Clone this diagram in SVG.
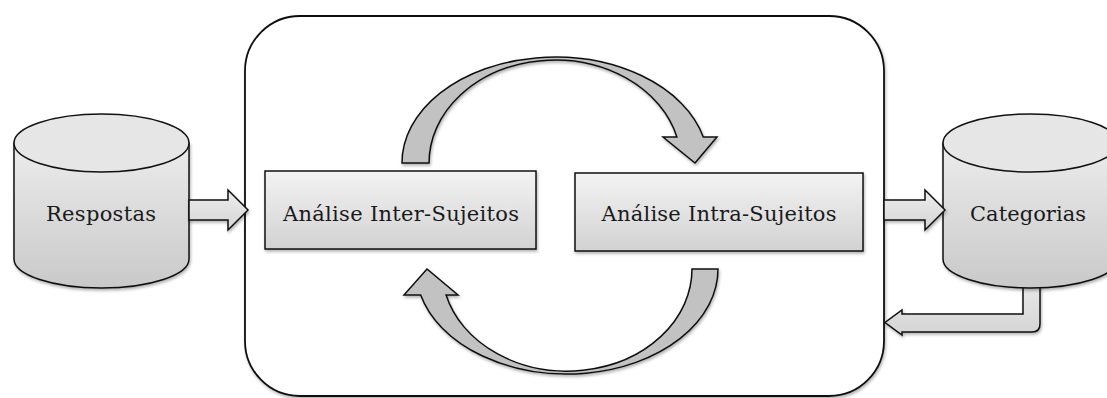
<svg xmlns="http://www.w3.org/2000/svg" width="1107" height="398" viewBox="0 0 1107 398">
<defs>
<linearGradient id="gBox" x1="0" y1="0" x2="0" y2="1">
<stop offset="0" stop-color="#f3f3f3"/><stop offset="1" stop-color="#d2d2d2"/>
</linearGradient>
<linearGradient id="gCyl" x1="0" y1="0" x2="0" y2="1">
<stop offset="0" stop-color="#ececec"/><stop offset="1" stop-color="#c9c9c9"/>
</linearGradient>
<linearGradient id="gArr" x1="0" y1="0" x2="0" y2="1">
<stop offset="0" stop-color="#eeeeee"/><stop offset="1" stop-color="#d4d4d4"/>
</linearGradient>
<filter id="sh" x="-10%" y="-10%" width="130%" height="130%">
<feDropShadow dx="1" dy="2" stdDeviation="1.5" flood-color="#000" flood-opacity="0.3"/>
</filter>
</defs>
<style>
.ln{stroke:#111;stroke-width:1.5;stroke-linejoin:miter}
.box{fill:url(#gBox)}
.cyl{fill:url(#gCyl)}
.top{fill:#e6e6e6}
.arr{fill:url(#gArr)}
.curve{fill:#c2c2c2}
.t{font-family:"DejaVu Serif","Liberation Serif",serif;font-size:21px;fill:#1a1a1a;text-anchor:middle}
</style>

<g id="container">
<rect x="245" y="16" width="639" height="380" rx="55" ry="55" fill="#ffffff" stroke="#111" stroke-width="1.8" filter="url(#sh)"/>
</g>

<g id="connectors">
<path id="arrow-cat-back" class="ln arr" filter="url(#sh)" d="M1040,270 L1040,324 Q1040,332 1032,332 L902,332 L902,335 L885,322.5 L902,310 L902,314 L1023,314 L1023,270 Z"/>
</g>

<g id="respostas">
<path class="ln cyl" filter="url(#sh)" d="M14,143 L14,259 A87.5,29 0 0 0 189,259 L189,143 Z"/>
<ellipse class="ln top" cx="101.5" cy="143" rx="87.5" ry="29"/>
<text class="t" x="101" y="221" textLength="110">Respostas</text>
</g>

<g id="categorias">
<path class="ln cyl" filter="url(#sh)" d="M943,143 L943,259 A87.5,29 0 0 0 1118,259 L1118,143 Z"/>
<ellipse class="ln top" cx="1030.5" cy="143" rx="87.5" ry="29"/>
<text class="t" x="1028" y="221" textLength="116">Categorias</text>
</g>

<g id="inter">
<rect class="ln box" filter="url(#sh)" x="265" y="171" width="271" height="78"/>
<text class="t" x="401" y="221" textLength="236">Análise Inter-Sujeitos</text>
</g>

<g id="intra">
<rect class="ln box" filter="url(#sh)" x="575" y="173" width="288" height="78"/>
<text class="t" x="719" y="221" textLength="235">Análise Intra-Sujeitos</text>
</g>

<g id="connectors-2">
<path id="arrow-in" class="ln arr" filter="url(#sh)" d="M189,200 L228,200 L228,190 L248,210 L228,230 L228,220 L189,220 Z"/>
<path id="arrow-out" class="ln arr" filter="url(#sh)" d="M884,200 L925,200 L925,190 L945,210 L925,230 L925,220 L884,220 Z"/>
<path id="arc-top" class="ln curve" filter="url(#sh)" d="M402,163 A153,106 0 0 1 703.3,137 L717,137 L695,163 L663,137 L676.9,137 A126,103 0 0 0 429,163 Z"/>
<path id="arc-bottom" class="ln curve" filter="url(#sh)" d="M718,269 A151,105 0 0 1 420.7,295 L404,295 L427,269 L458,295 L446.1,295 A125,102 0 0 0 692,269 Z"/>
</g>
</svg>
